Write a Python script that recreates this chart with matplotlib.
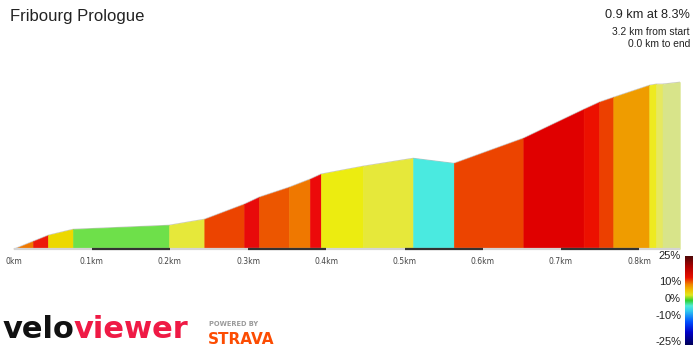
import matplotlib

matplotlib.use("Agg")
import matplotlib.pyplot as plt
import numpy as np
from matplotlib.colors import LinearSegmentedColormap

# profile: distance (km) and elevation gain (m) at each segment boundary
distance_km = [0.000, 0.025, 0.044, 0.076, 0.199, 0.244, 0.295, 0.314, 0.352,
               0.379, 0.393, 0.447, 0.511, 0.563, 0.652, 0.729, 0.749, 0.767,
               0.813, 0.822, 0.830, 0.852]
elevation_m = [0.0, 3.3, 5.8, 8.3, 10.0, 12.5, 18.8, 21.7, 25.8,
               29.2, 31.3, 34.6, 37.9, 35.8, 46.3, 58.3, 61.3, 63.3,
               68.3, 68.8, 68.8, 69.6]
segment_colors = ["#ef7800", "#ec1a0a", "#ecd800", "#6ee04a", "#e6e83a",
                  "#ec4400", "#e80a0a", "#ec5600", "#ef7800", "#ec0a0a",
                  "#ecec10", "#e6e83a", "#4aeae0", "#ec4400", "#e00000",
                  "#ec1000", "#ec4000", "#ef9c00", "#eeea20", "#e6e860",
                  "#d8e48a"]
tick_km = [0.0, 0.1, 0.2, 0.3, 0.4, 0.5, 0.6, 0.7, 0.8]
tick_labels = ["0km", "0.1km", "0.2km", "0.3km", "0.4km", "0.5km", "0.6km",
               "0.7km", "0.8km"]
grade_ticks = [25, 10, 0, -10, -25]
grade_colors = [(-25, "#00005a"), (-18, "#0000c8"), (-12, "#0050ff"),
                (-6, "#30c8f0"), (-3, "#50ecd8"), (0, "#30d030"),
                (3, "#e0e820"), (6, "#f0c000"), (9, "#f08800"),
                (13, "#e81000"), (19, "#b00000"), (25, "#500808")]

W, H = 700, 350
fig = plt.figure(figsize=(7, 3.5), dpi=100)

# profile axes: baseline at y=249px, 0km at x=13.5px, 782 px per km
base_px, top_px = 249, 70
ax = fig.add_axes([0, (H - base_px) / H, 1, (base_px - top_px) / H])
ax.set_xlim(-13.5 / 782, (W - 13.5) / 782)
ax.set_ylim(0, (base_px - top_px) / 2.4)
for i, c in enumerate(segment_colors):
    xs = distance_km[i:i + 2]
    ys = elevation_m[i:i + 2]
    ax.fill_between(xs, [0, 0], ys, color=c, lw=0.4, edgecolor=c)
ax.plot(distance_km, elevation_m, color="#888888", lw=0.4, alpha=0.5)

ax.plot([0, distance_km[-1]], [0, 0], color="#d4d4d4", lw=1.6,
        clip_on=False, solid_capstyle="butt")
for k in range(1, len(tick_km) - 1, 2):
    ax.plot([tick_km[k], tick_km[k + 1]], [0, 0], color="#333333", lw=1.6,
            clip_on=False, solid_capstyle="butt")

ax.set_xticks(tick_km)
ax.set_xticklabels(tick_labels, fontsize=5.5, color="#444444")
ax.tick_params(axis="x", length=0, pad=6)
ax.set_yticks([])
for s in ax.spines.values():
    s.set_visible(False)
ax.patch.set_alpha(0)

# texts
fig.text(10 / W, 1 - 21 / H, "Fribourg Prologue", fontsize=12,
         family="Liberation Sans", color="#222222", va="baseline")
fig.text(690 / W, 1 - 18 / H, "0.9 km at 8.3%", fontsize=9.2,
         family="Liberation Sans", color="#222222", va="baseline", ha="right")
fig.text(690 / W, 1 - 35 / H, "3.2 km from start", fontsize=7.4,
         family="Liberation Sans", color="#222222", va="baseline", ha="right")
fig.text(690 / W, 1 - 47 / H, "0.0 km to end", fontsize=7.4,
         family="Liberation Sans", color="#222222", va="baseline", ha="right")

# grade colour bar
vals, cols = zip(*grade_colors)
pos = [(v + 25) / 50 for v in vals]
cmap = LinearSegmentedColormap.from_list("grade", list(zip(pos, cols)))
cax = fig.add_axes([685 / W, (H - 345) / H, 8 / W, 89 / H])
grad = np.linspace(25, -25, 200).reshape(-1, 1)
cax.imshow(grad, cmap=cmap, vmin=-25, vmax=25, aspect="auto",
           extent=[0, 1, -25, 25])
cax.set_axis_off()
for g in grade_ticks:
    yp = 256 + (25 - g) / 50 * 86
    fig.text(681 / W, 1 - yp / H, f"{g}%", fontsize=8, ha="right",
             va="center", color="#222222", family="Liberation Sans")

# logos
t = fig.text(3 / W, 1 - 338 / H, "velo", fontsize=22, fontweight="heavy",
             color="#111111", va="baseline")
fig.canvas.draw()
bb = t.get_window_extent()
fig.text(bb.x1 / W - 1 / W, 1 - 338 / H, "viewer", fontsize=22,
         fontweight="heavy", color="#ef1a45", va="baseline")
fig.text(209 / W, 1 - 326 / H, "POWERED BY", fontsize=4.8, fontweight="bold",
         color="#9a9a9a", va="baseline")
fig.text(208 / W, 1 - 344 / H, "STRAVA", fontsize=11, fontweight="heavy",
         color="#fc4c02", va="baseline")

fig.savefig("out.png", dpi=100)
plt.close(fig)
